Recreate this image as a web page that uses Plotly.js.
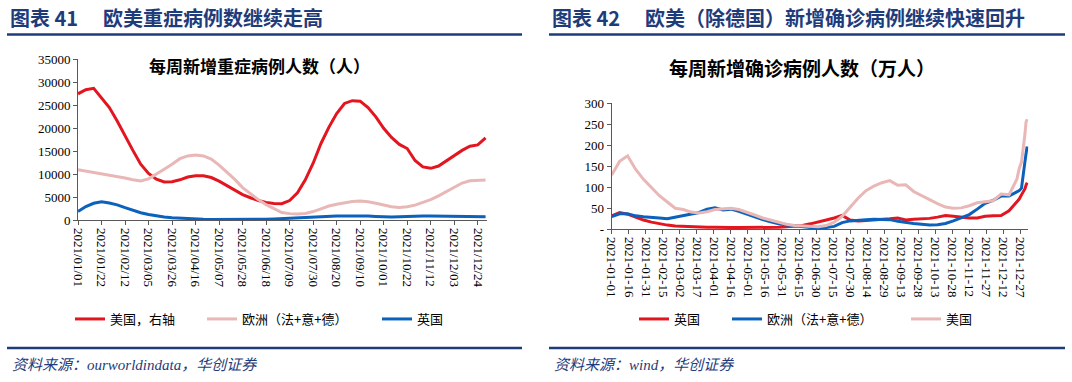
<!DOCTYPE html>
<html>
<head>
<meta charset="utf-8">
<script src="https://cdn.plot.ly/plotly-3.0.1.min.js"></script>
<style>
html,body{margin:0;padding:0;background:#fff;}
#chart{width:1072px;height:382px;}
</style>
</head>
<body>
<div id="chart"></div>
<script>
// ---------- Left chart: weekly severe cases ----------
const leftDates = ['2021-01-01','2021-01-08','2021-01-15','2021-01-22','2021-01-29','2021-02-05','2021-02-12','2021-02-19','2021-02-26','2021-03-05','2021-03-12','2021-03-19','2021-03-26','2021-04-02','2021-04-09','2021-04-16','2021-04-23','2021-04-30','2021-05-07','2021-05-14','2021-05-21','2021-05-28','2021-06-04','2021-06-11','2021-06-18','2021-06-25','2021-07-02','2021-07-09','2021-07-16','2021-07-23','2021-07-30','2021-08-06','2021-08-13','2021-08-20','2021-08-27','2021-09-03','2021-09-10','2021-09-17','2021-09-24','2021-10-01','2021-10-08','2021-10-15','2021-10-22','2021-10-29','2021-11-05','2021-11-12','2021-11-19','2021-11-26','2021-12-03','2021-12-10','2021-12-17','2021-12-24','2021-12-31'];
const usSevere = [27500,28400,28700,26500,24500,21600,18300,15200,12200,10200,8950,8350,8400,8800,9400,9700,9700,9300,8500,7500,6500,5600,4900,4300,3900,3650,3600,4300,6000,8800,12400,16700,20200,23200,25400,26000,25900,24500,22500,20000,18000,16500,15600,13000,11600,11300,11800,12900,14100,15200,16100,16400,17900];
const euSevere = [11000,10700,10400,10200,9900,9600,9200,8800,8550,9000,10000,11100,12200,13400,14000,14200,14000,13300,12000,10500,8900,7100,5700,4500,3400,2500,1700,1450,1350,1500,1900,2500,3100,3500,3850,4100,4200,4050,3700,3300,2950,2800,2950,3300,3900,4500,5300,6200,7200,8100,8600,8750,8750];
const ukSevere = [1900,3000,3700,4050,3750,3350,2750,2150,1650,1250,950,720,550,430,340,280,230,200,180,160,150,150,160,180,210,260,350,450,580,680,760,830,880,930,960,990,1000,950,850,750,720,760,850,930,950,920,880,870,850,820,800,780,760];
const leftTickVals = ['2021-01-01','2021-01-22','2021-02-12','2021-03-05','2021-03-26','2021-04-16','2021-05-07','2021-05-28','2021-06-18','2021-07-09','2021-07-30','2021-08-20','2021-09-10','2021-10-01','2021-10-22','2021-11-12','2021-12-03','2021-12-24'];
const leftTickText = leftTickVals.map(d => d.replace(/-/g,'/'));
const leftYTicks = [0,5000,10000,15000,20000,25000,30000,35000];

// ---------- Right chart: weekly new confirmed (10k) ----------
const rightDates = leftDates.slice(0,52).concat(['2021-12-26','2021-12-28','2021-12-30','2021-12-31','2022-01-01','2022-01-02']);
const ukCases = [32,40,36,29,22,17,13,10,8,7,6,5,5,5,4,4,4,4,4,4,4,5,6,7,9,13,17,22,27,33,22,20,21,22,23,25,27,22,24,25,26,29,33,31,29,27,27,31,32,33,44,65,72,82,90,96,105,111];
const euCases = [30,37,37,32,30,29,27,25,29,33,37,40,48,51,46,48,43,36,29,23,18,13,10,8,5,4,3,4,7,16,20,22,23,24,24,23,19,16,14,12,10,11,14,20,27,35,48,62,69,79,79,90,92,98,133,160,180,197];
const usCases = [129,162,175,143,119,100,80,65,50,47,41,39,42,47,49,50,47,41,34,27,22,17,12,9,8,7,6,9,17,31,52,74,92,103,111,116,105,106,90,80,71,61,53,50,51,56,63,66,68,84,82,120,145,160,200,225,255,262];
const rightTickVals = ['2021-01-01','2021-01-16','2021-01-31','2021-02-15','2021-03-02','2021-03-17','2021-04-01','2021-04-16','2021-05-01','2021-05-16','2021-05-31','2021-06-15','2021-06-30','2021-07-15','2021-07-30','2021-08-14','2021-08-29','2021-09-13','2021-09-28','2021-10-13','2021-10-28','2021-11-12','2021-11-27','2021-12-12','2021-12-27'];
const rightYTicks = [0,50,100,150,200,250,300];
const rightYText = ['-','50','100','150','200','250','300'];

const RED = '#E3161F', PINK = '#E8B7B6', BLUE = '#0B62BC', NAVY = '#1F3C7A';
const W = 1072, H = 382;
const px = x => x / W, py = y => 1 - y / H;

const serif = 'Liberation Serif, Times New Roman, serif';
const cjk = 'Noto Sans CJK SC, sans-serif';

const traces = [
  {x: leftDates, y: usSevere, name: '美国，右轴', type: 'scatter', mode: 'lines', line: {color: RED, width: 3}, xaxis: 'x', yaxis: 'y', legend: 'legend'},
  {x: leftDates, y: euSevere, name: '欧洲（法+意+德）', type: 'scatter', mode: 'lines', line: {color: PINK, width: 3}, xaxis: 'x', yaxis: 'y', legend: 'legend2'},
  {x: leftDates, y: ukSevere, name: '英国', type: 'scatter', mode: 'lines', line: {color: BLUE, width: 3}, xaxis: 'x', yaxis: 'y', legend: 'legend3'},
  {x: rightDates, y: ukCases, name: '英国', type: 'scatter', mode: 'lines', line: {color: RED, width: 3}, xaxis: 'x2', yaxis: 'y2', legend: 'legend4'},
  {x: rightDates, y: euCases, name: '欧洲（法+意+德）', type: 'scatter', mode: 'lines', line: {color: BLUE, width: 3}, xaxis: 'x2', yaxis: 'y2', legend: 'legend5'},
  {x: rightDates, y: usCases, name: '美国', type: 'scatter', mode: 'lines', line: {color: PINK, width: 3}, xaxis: 'x2', yaxis: 'y2', legend: 'legend6'}
];

const axisCommon = {showgrid: false, zeroline: false, showline: true, linecolor: '#595959', linewidth: 1, ticks: 'outside', ticklen: 4, tickcolor: '#595959', tickfont: {family: serif, size: 13, color: '#000'}, fixedrange: true};

function mkLegend(x) {
  return {orientation: 'h', x: px(x), y: py(319), xanchor: 'left', yanchor: 'middle', font: {family: cjk, size: 13, color: '#000'}, bgcolor: 'rgba(0,0,0,0)'};
}

const layout = {
  width: W, height: H,
  margin: {l: 0, r: 0, t: 0, b: 0},
  paper_bgcolor: '#fff', plot_bgcolor: 'rgba(0,0,0,0)',
  showlegend: true,
  hovermode: false,
  xaxis: Object.assign({}, axisCommon, {type: 'date', domain: [px(78), px(486.7)], range: ['2021-01-01', '2022-01-01'], tickmode: 'array', tickvals: leftTickVals, ticktext: leftTickText, tickangle: 90, anchor: 'y'}),
  yaxis: Object.assign({}, axisCommon, {domain: [py(220.3), py(59.3)], range: [0, 35000], tickmode: 'array', tickvals: leftYTicks, ticktext: leftYTicks.map(String), anchor: 'x'}),
  xaxis2: Object.assign({}, axisCommon, {type: 'date', domain: [px(611.7), px(1028.3)], range: ['2021-01-01', '2022-01-03'], tickmode: 'array', tickvals: rightTickVals, ticktext: rightTickVals, tickangle: 90, anchor: 'y2'}),
  yaxis2: Object.assign({}, axisCommon, {domain: [py(229.3), py(103.3)], range: [0, 300], tickmode: 'array', tickvals: rightYTicks, ticktext: rightYText, anchor: 'x2'}),
  legend: mkLegend(70),
  legend2: mkLegend(202),
  legend3: mkLegend(377),
  legend4: mkLegend(634),
  legend5: mkLegend(727),
  legend6: mkLegend(906),
  shapes: [
    {type: 'line', xref: 'paper', yref: 'paper', x0: px(7), x1: px(522), y0: py(34.5), y1: py(34.5), line: {color: NAVY, width: 2.5}},
    {type: 'line', xref: 'paper', yref: 'paper', x0: px(549), x1: px(1065), y0: py(34.5), y1: py(34.5), line: {color: NAVY, width: 2.5}},
    {type: 'line', xref: 'paper', yref: 'paper', x0: px(7), x1: px(522), y0: py(348), y1: py(348), line: {color: NAVY, width: 2.5}},
    {type: 'line', xref: 'paper', yref: 'paper', x0: px(549), x1: px(1065), y0: py(348), y1: py(348), line: {color: NAVY, width: 2.5}}
  ],
  annotations: [
    {text: '<b>图表 41</b>', xref: 'paper', yref: 'paper', x: px(8), y: py(18), xanchor: 'left', yanchor: 'middle', showarrow: false, font: {family: cjk, size: 20, color: NAVY}},
    {text: '<b>欧美重症病例数继续走高</b>', xref: 'paper', yref: 'paper', x: px(101), y: py(18), xanchor: 'left', yanchor: 'middle', showarrow: false, font: {family: cjk, size: 20, color: NAVY}},
    {text: '<b>图表 42</b>', xref: 'paper', yref: 'paper', x: px(550), y: py(18), xanchor: 'left', yanchor: 'middle', showarrow: false, font: {family: cjk, size: 20, color: NAVY}},
    {text: '<b>欧美（除德国）新增确诊病例继续快速回升</b>', xref: 'paper', yref: 'paper', x: px(643), y: py(18), xanchor: 'left', yanchor: 'middle', showarrow: false, font: {family: cjk, size: 20, color: NAVY}},
    {text: '<b>每周新增重症病例人数（人）</b>', xref: 'paper', yref: 'paper', x: px(259), y: py(65), xanchor: 'center', yanchor: 'middle', showarrow: false, font: {family: cjk, size: 17, color: '#000'}},
    {text: '<b>每周新增确诊病例人数（万人）</b>', xref: 'paper', yref: 'paper', x: px(802), y: py(67), xanchor: 'center', yanchor: 'middle', showarrow: false, font: {family: cjk, size: 19, color: '#000'}},
    {text: '<i>资料来源：ourworldindata，华创证券</i>', xref: 'paper', yref: 'paper', x: px(10), y: py(365), xanchor: 'left', yanchor: 'middle', showarrow: false, font: {family: 'Liberation Serif, Noto Sans CJK SC, serif', size: 15, color: NAVY}},
    {text: '<i>资料来源：wind，华创证券</i>', xref: 'paper', yref: 'paper', x: px(552), y: py(365), xanchor: 'left', yanchor: 'middle', showarrow: false, font: {family: 'Liberation Serif, Noto Sans CJK SC, serif', size: 15, color: NAVY}}
  ]
};

Plotly.newPlot('chart', traces, layout, {staticPlot: true, displayModeBar: false});
</script>
</body>
</html>
